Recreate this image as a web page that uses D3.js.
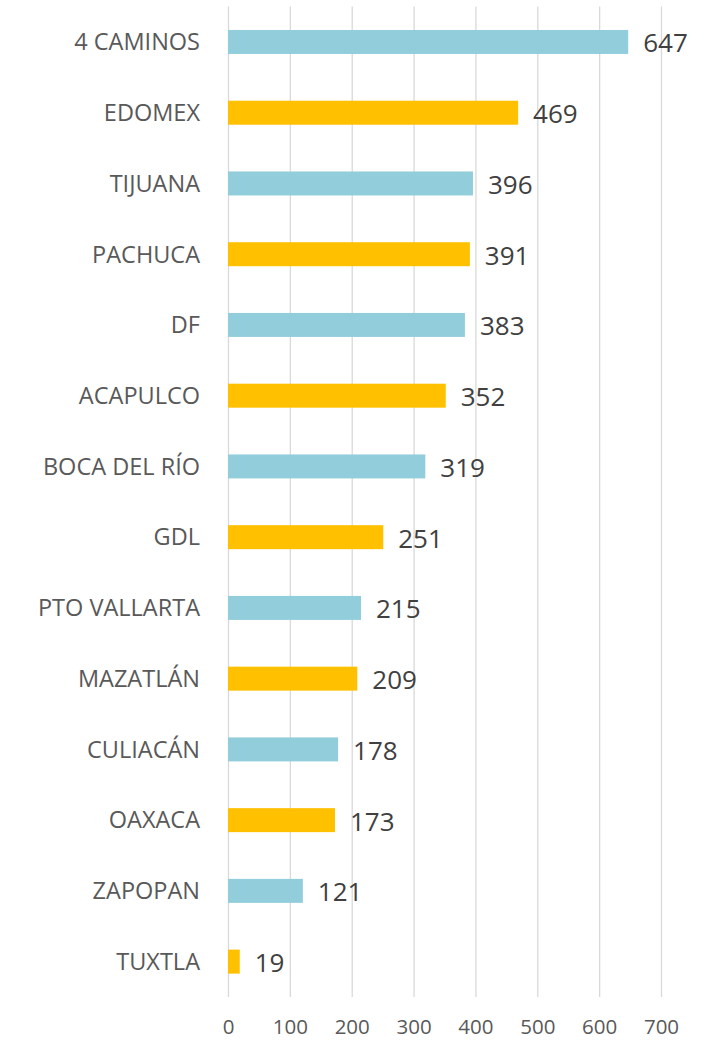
<!DOCTYPE html>
<html>
<head>
<meta charset="utf-8">
<script src="https://cdn.jsdelivr.net/npm/d3@7"></script>
<style>
  body { margin: 0; background: #fff; }
  svg { display: block; font-family: "Open Sans", sans-serif; }
</style>
</head>
<body>
<script>
var width = 706,
    height = 1040;

var categories = ["4 CAMINOS", "EDOMEX", "TIJUANA", "PACHUCA", "DF", "ACAPULCO", "BOCA DEL RÍO",
                  "GDL", "PTO VALLARTA", "MAZATLÁN", "CULIACÁN", "OAXACA", "ZAPOPAN", "TUXTLA"];
var values = [647, 469, 396, 391, 383, 352, 319, 251, 215, 209, 178, 173, 121, 19];
var tickValues = [0, 100, 200, 300, 400, 500, 600, 700];
var colors = ["#92CDDC", "#FFC000"]; // alternating rows

var plotTop = 6.6, plotBottom = 997;

var svg = d3.select("body").append("svg").attr("width", width).attr("height", height);

var x = d3.scaleLinear()
    .domain([0, 700])
    .range([228, 661]);

var y = d3.scaleBand()
    .domain(categories)
    .range([plotTop, plotBottom])
    .paddingInner(0.661)
    .paddingOuter(0.3305);

// axis + gridlines
var axis = svg.append("g")
    .attr("transform", "translate(0," + plotBottom + ")")
    .call(d3.axisBottom(x).tickValues(tickValues).tickSize(-(plotBottom - plotTop)).tickPadding(22));
axis.select(".domain").remove();
axis.selectAll(".tick line").attr("stroke", "#D9D9D9").attr("stroke-width", 1.3);
axis.selectAll(".tick text")
    .attr("fill", "#595959")
    .style("font-size", "20.5px")
    .style("font-family", "'Open Sans', sans-serif");

// bars
svg.selectAll("rect.bar").data(values).enter().append("rect")
    .attr("class", "bar")
    .attr("x", x(0))
    .attr("y", (d, i) => y(categories[i]))
    .attr("width", d => x(d) - x(0))
    .attr("height", y.bandwidth())
    .attr("fill", (d, i) => colors[i % 2]);

// category labels
svg.selectAll("text.cat").data(categories).enter().append("text")
    .attr("class", "cat")
    .attr("x", 200)
    .attr("y", d => y(d) + y.bandwidth() / 2 + 8.3)
    .attr("text-anchor", "end")
    .attr("fill", "#595959")
    .style("font-size", "23.5px")
    .text(d => d);

// value labels
svg.selectAll("text.val").data(values).enter().append("text")
    .attr("class", "val")
    .attr("x", d => x(d) + 15)
    .attr("y", (d, i) => y(categories[i]) + y.bandwidth() / 2 + 10.5)
    .attr("fill", "#404040")
    .style("font-size", "26px")
    .text(d => d);
</script>
</body>
</html>
